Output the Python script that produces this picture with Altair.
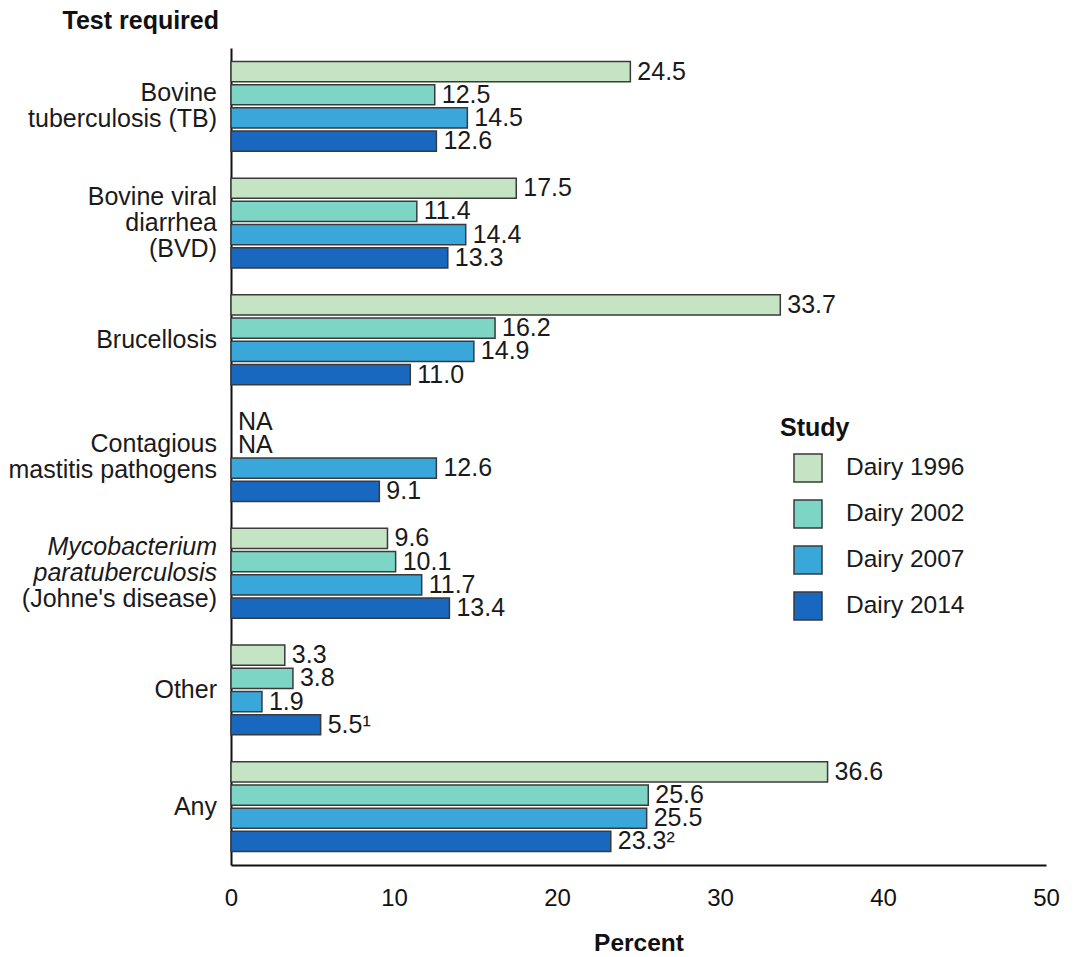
import altair as alt

# ---- data ----
categories = [
    "Bovine tuberculosis (TB)",
    "Bovine viral diarrhea (BVD)",
    "Brucellosis",
    "Contagious mastitis pathogens",
    "Mycobacterium paratuberculosis (Johne's disease)",
    "Other",
    "Any",
]
category_lines = [
    ["Bovine", "tuberculosis (TB)"],
    ["Bovine viral", "diarrhea", "(BVD)"],
    ["Brucellosis"],
    ["Contagious", "mastitis pathogens"],
    ["Mycobacterium", "paratuberculosis", "(Johne's disease)"],
    ["Other"],
    ["Any"],
]
italic_line_count = [0, 0, 0, 0, 2, 0, 0]

studies = ["Dairy 1996", "Dairy 2002", "Dairy 2007", "Dairy 2014"]
study_colors = ["#c4e4c3", "#7dd5c5", "#3aa7da", "#1868bf"]

dairy_1996 = [24.5, 17.5, 33.7, None, 9.6, 3.3, 36.6]
dairy_2002 = [12.5, 11.4, 16.2, None, 10.1, 3.8, 25.6]
dairy_2007 = [14.5, 14.4, 14.9, 12.6, 11.7, 1.9, 25.5]
dairy_2014 = [12.6, 13.3, 11.0, 9.1, 13.4, 5.5, 23.3]
footnote_2014 = ["", "", "", "", "", "\u00b9", "\u00b2"]

series = [dairy_1996, dairy_2002, dairy_2007, dairy_2014]

# ---- build tables ----
rows = []
for s_i, study in enumerate(studies):
    for c_i, cat in enumerate(categories):
        v = series[s_i][c_i]
        note = footnote_2014[c_i] if study == "Dairy 2014" else ""
        rows.append({
            "category": cat,
            "study": study,
            "value": v,
            "xpos": v if v is not None else 0,
            "label": (f"{v:.1f}" + note) if v is not None else "NA",
        })

LINE_H = 26
# split every category label into runs of same style; each run keeps its
# line offset from the label's vertical centre
label_runs = {}
for c_i, cat in enumerate(categories):
    lines = category_lines[c_i]
    n = len(lines)
    n_it = italic_line_count[c_i]
    segments = []
    if n_it > 0:
        segments.append((0, lines[:n_it], True))
    if n_it < n:
        segments.append((n_it, lines[n_it:], False))
    for start, seg_lines, italic in segments:
        shift = (start - (n - 1) / 2.0) * LINE_H
        key = (shift, italic)
        label_runs.setdefault(key, []).append({"category": cat, "lines": seg_lines})

data = alt.InlineData(values=rows)

FONT = "Liberation Sans, Arial, Helvetica, sans-serif"
TXT = "#1a1a1a"

y_scale = alt.Scale(domain=categories, paddingInner=0.23, paddingOuter=0.115)
y_axis = alt.Axis(
    title="Test required",
    labels=False,
    ticks=False,
    tickSize=0,
    grid=False,
    domain=True,
    domainColor="#111111",
    domainWidth=2,
    titleAngle=0,
    titleAlign="left",
    titleBaseline="alphabetic",
    titleX=-169,
    titleY=-20,
    titleFont=FONT,
    titleFontSize=25,
    titleFontWeight="bold",
    titleColor="#111111",
)
y_enc = alt.Y("category:N", scale=y_scale, axis=y_axis, sort=categories)

x_scale = alt.Scale(domain=[0, 50], nice=False)
x_axis = alt.Axis(
    title="Percent",
    values=[0, 10, 20, 30, 40, 50],
    ticks=False,
    tickSize=0,
    grid=False,
    labelFlush=False,
    domainColor="#111111",
    domainWidth=2,
    labelFont=FONT,
    labelFontSize=24,
    labelColor="#111111",
    labelPadding=21,
    titleFont=FONT,
    titleFontSize=24.5,
    titleFontWeight="bold",
    titleColor="#111111",
    titlePadding=21,
)

yoff = alt.YOffset("study:N", scale=alt.Scale(domain=studies, paddingInner=0.13, paddingOuter=0), sort=studies)

bars = alt.Chart(data).transform_filter("isValid(datum.value)").mark_bar(
    stroke="#3a3a3a", strokeWidth=1.5
).encode(
    x=alt.X("value:Q", scale=x_scale, axis=x_axis),
    y=y_enc,
    yOffset=yoff,
    color=alt.Color(
        "study:N",
        scale=alt.Scale(domain=studies, range=study_colors),
        sort=studies,
        legend=alt.Legend(
            title="Study",
            orient="none",
            legendX=549,
            legendY=368,
            symbolType="square",
            symbolSize=784,
            symbolStrokeColor="#3a3a3a",
            symbolStrokeWidth=1.5,
            symbolOffset=13,
            labelOffset=23,
            rowPadding=12,
            titlePadding=12,
            titleFont=FONT,
            titleFontSize=25,
            titleFontWeight="bold",
            titleColor="#111111",
            labelFont=FONT,
            labelFontSize=24.5,
            labelColor=TXT,
        ),
    ),
)

values_text = alt.Chart(data).mark_text(
    align="left", baseline="middle", dx=7, font=FONT, fontSize=25, color=TXT
).encode(
    x=alt.X("xpos:Q", scale=x_scale, axis=x_axis),
    y=y_enc,
    yOffset=yoff,
    text="label:N",
)

label_layers = []
for (shift, italic), recs in label_runs.items():
    mark_kw = dict(
        align="right", baseline="middle", font=FONT, fontSize=25,
        lineHeight=LINE_H, color=TXT, dy=shift,
    )
    if italic:
        mark_kw["fontStyle"] = "italic"
    label_layers.append(
        alt.Chart(alt.InlineData(values=recs)).mark_text(**mark_kw).encode(
            x=alt.value(-14),
            y=y_enc,
            text=alt.Text("lines:N"),
        )
    )

chart = alt.layer(bars, values_text, *label_layers).properties(
    width=815,
    height=817,
    background="white",
    autosize=alt.AutoSizeParams(type="none"),
    padding={"left": 223, "top": 40, "right": 20, "bottom": 90},
).configure_view(strokeWidth=0, stroke="transparent")

chart.save("out.html", embed_options={"renderer": "svg", "actions": False})
